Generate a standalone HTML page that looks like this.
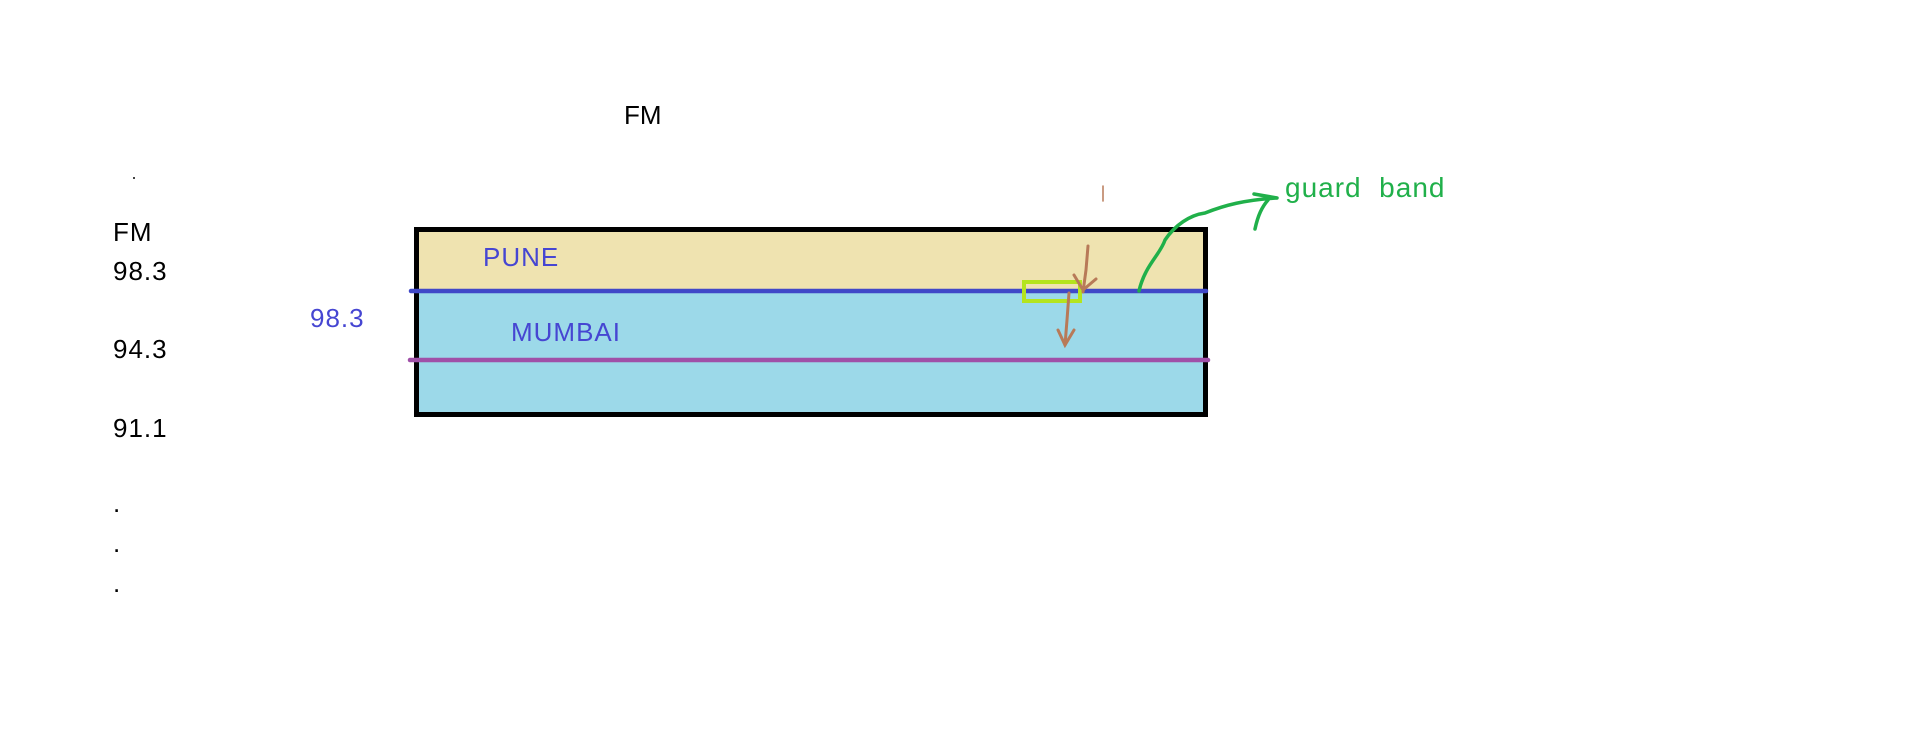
<!DOCTYPE html>
<html><head><meta charset="utf-8"><style>
html,body{margin:0;padding:0;background:#fff;}
svg{display:block;}
text{font-family:"Liberation Sans",sans-serif;}
</style></head><body>
<svg width="1914" height="734" viewBox="0 0 1914 734">
<text x="624" y="124" font-size="26" fill="#000">FM</text>
<rect x="133" y="177" width="2" height="2" fill="#444"/>
<g font-size="26" fill="#000" letter-spacing="1">
<text x="113" y="241">FM</text>
<text x="113" y="280">98.3</text>
<text x="113" y="358">94.3</text>
<text x="113" y="437">91.1</text>
<text x="113" y="512">.</text>
<text x="113" y="552">.</text>
<text x="113" y="592">.</text>
</g>
<text x="310" y="327" font-size="26" letter-spacing="1" fill="#4646d2">98.3</text>
<rect x="414" y="227" width="794" height="190" fill="#9cd9e9"/>
<rect x="414" y="227" width="794" height="64" fill="#efe3b0"/>
<rect x="416.5" y="229.5" width="789" height="185" fill="none" stroke="#000" stroke-width="5"/>
<line x1="411" y1="291" x2="1206" y2="291" stroke="#4048c8" stroke-width="4.5" stroke-linecap="round"/>
<line x1="410" y1="360" x2="1208" y2="360" stroke="#a050a8" stroke-width="4.5" stroke-linecap="round"/>
<text x="483" y="266" font-size="26" letter-spacing="1" fill="#4646d2">PUNE</text>
<text x="511" y="341" font-size="26" letter-spacing="1" fill="#4646d2">MUMBAI</text>
<rect x="1024" y="282" width="56" height="19" fill="none" stroke="#b4e41e" stroke-width="4"/>
<g stroke="#b87a58" stroke-width="3" fill="none" stroke-linecap="round">
<path d="M1088 246 L1086 270 L1083 292"/>
<path d="M1074 275 L1083 290 L1096 279"/>
<path d="M1069 293 L1067 320 L1065 345"/>
<path d="M1058 330 L1065 345 L1074 330"/>
<line x1="1103" y1="186" x2="1103" y2="201" stroke-width="1.5"/>
</g>
<g stroke="#20b04a" stroke-width="3.5" fill="none" stroke-linecap="round">
<path d="M1139 291 C1145 265 1160 255 1165 240 C1175 225 1190 215 1205 213 C1225 205 1245 200 1276 198"/>
<path d="M1254 194 L1277 198 M1255 229 C1258 215 1262 207 1268 200"/>
</g>
<text x="1285" y="197" font-size="28" letter-spacing="1" fill="#20b04a" xml:space="preserve">guard  band</text>
</svg>
</body></html>
